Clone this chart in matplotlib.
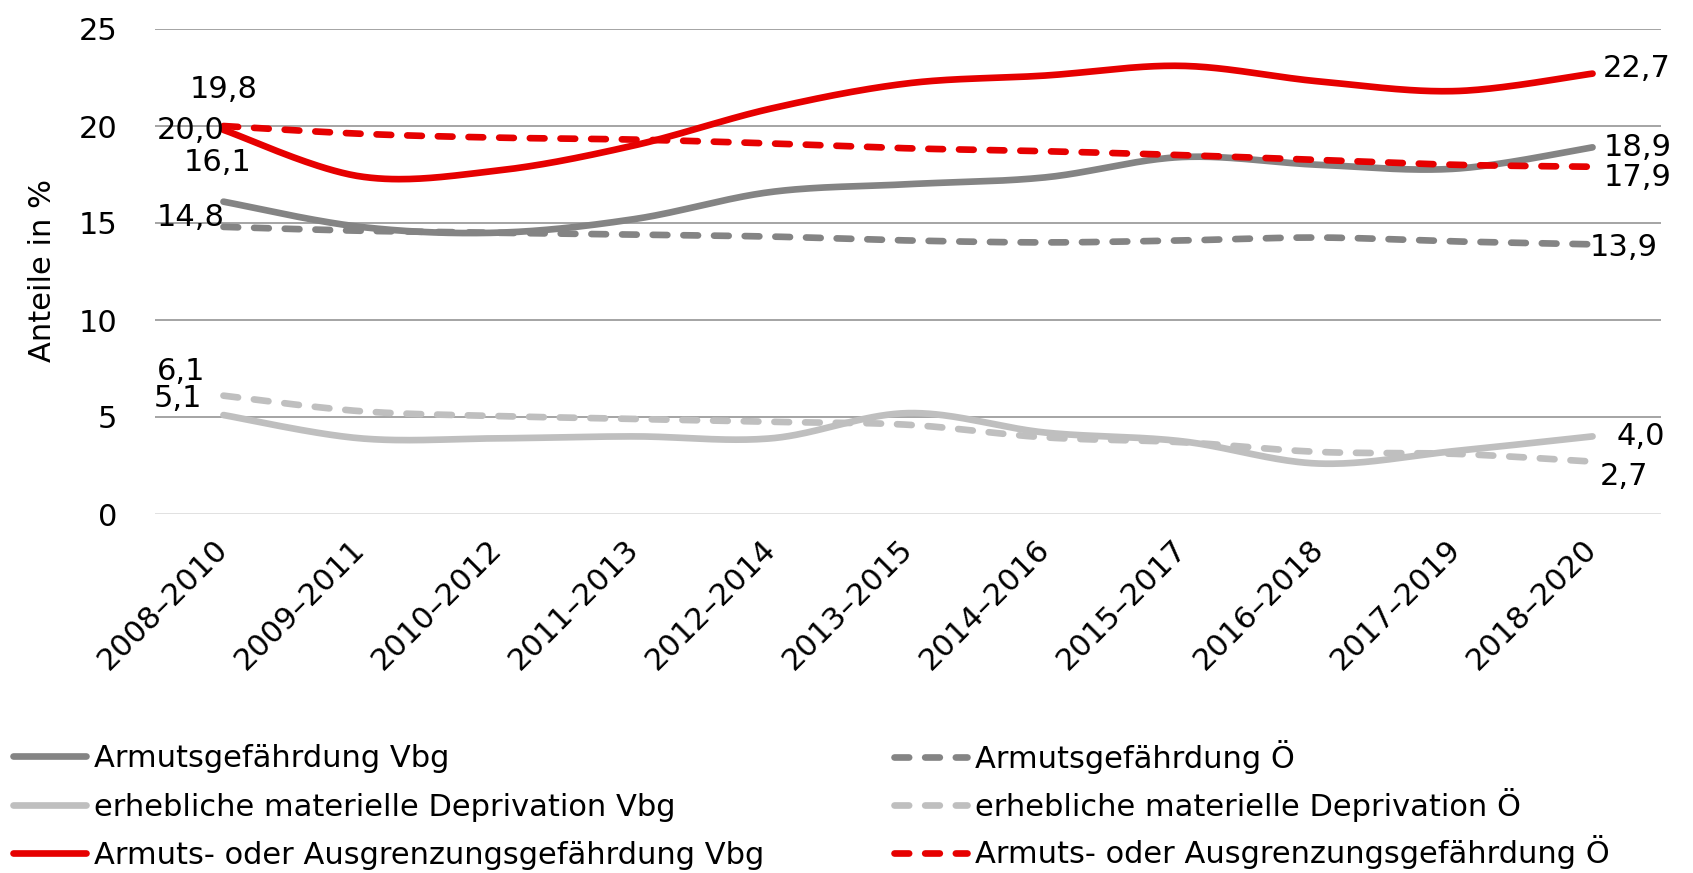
import numpy as np
import matplotlib
matplotlib.use("Agg")
import matplotlib.pyplot as plt

# Drei-Jahres-Durchschnitte, Anteile in %
perioden = ["2008–2010", "2009–2011", "2010–2012", "2011–2013", "2012–2014",
            "2013–2015", "2014–2016", "2015–2017", "2016–2018", "2017–2019",
            "2018–2020"]
armut_vbg = [16.1, 14.8, 14.5, 15.2, 16.6, 17.0, 17.35, 18.4, 18.0, 17.8, 18.9]
armut_oe = [14.8, 14.6, 14.5, 14.4, 14.3, 14.1, 14.0, 14.1, 14.25, 14.05, 13.9]
depr_vbg = [5.1, 3.9, 3.9, 4.0, 3.9, 5.2, 4.2, 3.75, 2.6, 3.25, 4.0]
depr_oe = [6.1, 5.3, 5.05, 4.9, 4.75, 4.6, 3.95, 3.7, 3.2, 3.1, 2.7]
ausgr_vbg = [19.8, 17.4, 17.7, 19.0, 20.9, 22.2, 22.6, 23.1, 22.3, 21.8, 22.7]
ausgr_oe = [20.0, 19.6, 19.4, 19.3, 19.1, 18.85, 18.7, 18.5, 18.25, 18.0, 17.9]
y_ticks = [0, 5, 10, 15, 20, 25]

ROT = "#E60000"
DUNKEL = "#848484"
HELL = "#BFBFBF"

plt.rcParams["font.family"] = ["DejaVu Sans"]
FS = 22


def smooth(y, n=40):
    """Excel-artige Glättung (Bezier mit Catmull-Rom Kontrollpunkten)."""
    pts = np.column_stack([np.arange(len(y)), y]).astype(float)
    out = []
    for i in range(len(pts) - 1):
        p0 = pts[max(i - 1, 0)]
        p1 = pts[i]
        p2 = pts[i + 1]
        p3 = pts[min(i + 2, len(pts) - 1)]
        c1 = p1 + (p2 - p0) / 6
        c2 = p2 - (p3 - p1) / 6
        t = np.linspace(0, 1, n)[:, None]
        seg = (1 - t) ** 3 * p1 + 3 * (1 - t) ** 2 * t * c1 + 3 * (1 - t) * t ** 2 * c2 + t ** 3 * p2
        out.append(seg if i == 0 else seg[1:])
    s = np.vstack(out)
    return s[:, 0], s[:, 1]


def fmt(v):
    return f"{v:.1f}".replace(".", ",")


fig = plt.figure(figsize=(16.93, 8.73), dpi=100)
ax = fig.add_axes([155 / 1693, 1 - 514 / 873, 1506 / 1693, 485 / 873])

LW = 4.8
DASH = (0, (2.2, 2.4))
serien = [
    (armut_vbg, DUNKEL, "-", "Armutsgefährdung Vbg"),
    (armut_oe, DUNKEL, DASH, "Armutsgefährdung Ö"),
    (depr_vbg, HELL, "-", "erhebliche materielle Deprivation Vbg"),
    (depr_oe, HELL, DASH, "erhebliche materielle Deprivation Ö"),
    (ausgr_vbg, ROT, "-", "Armuts- oder Ausgrenzungsgefährdung Vbg"),
    (ausgr_oe, ROT, DASH, "Armuts- oder Ausgrenzungsgefährdung Ö"),
]
handles = {}
for werte, farbe, ls, name in serien:
    xs, ys = smooth(werte)
    ln, = ax.plot(xs, ys, color=farbe, lw=LW, linestyle=ls,
                  solid_capstyle="round", dash_capstyle="round", label=name)
    handles[name] = ln

ax.set_xlim(-0.5, len(perioden) - 0.5)
ax.set_ylim(0, 25)
ax.set_yticks(y_ticks)
ax.set_xticks(range(len(perioden)))
ax.set_xticklabels(perioden, rotation=45, ha="right", va="center",
                   rotation_mode="anchor", fontsize=FS)
ax.tick_params(axis="x", length=0, pad=22)
ax.tick_params(axis="y", length=0, pad=27, labelsize=FS)
for s in ax.spines.values():
    s.set_visible(False)
ax.set_axisbelow(True)
ax.yaxis.grid(True, color="#8C8C8C", lw=1.1)
ax.get_ygridlines()[0].set_color("#D9D9D9")

fig.text(43 / 1693, 1 - 271 / 873, "Anteile in %", rotation=90,
         ha="center", va="center", fontsize=FS)


# Datenbeschriftungen am Anfang und Ende
def lab(x, v, dx, dy, ha):
    ax.annotate(fmt(v), xy=(x, v), xytext=(dx, dy), textcoords="offset points",
                ha=ha, va="center", fontsize=FS, annotation_clip=False)


last = len(perioden) - 1
lab(0, ausgr_vbg[0], 0, 29, "center")
lab(0, ausgr_oe[0], 1, -3, "right")
lab(0, armut_vbg[0], -4, 28, "center")
lab(0, armut_oe[0], 1, 7, "right")
lab(0, depr_oe[0], -13, 17.5, "right")
lab(0, depr_vbg[0], -15, 12, "right")
lab(last, ausgr_vbg[-1], 7, 4, "left")
lab(last, armut_vbg[-1], 8, 0, "left")
lab(last, ausgr_oe[-1], 8, -8, "left")
lab(last, armut_oe[-1], -2, -2, "left")
lab(last, depr_vbg[-1], 17, 0, "left")
lab(last, depr_oe[-1], 5, -11, "left")

links = ["Armutsgefährdung Vbg", "erhebliche materielle Deprivation Vbg",
         "Armuts- oder Ausgrenzungsgefährdung Vbg"]
rechts = ["Armutsgefährdung Ö", "erhebliche materielle Deprivation Ö",
          "Armuts- oder Ausgrenzungsgefährdung Ö"]
for namen, x0, y0, abstand in [(links, 13 / 1693, 744 / 873, 0.64),
                               (rechts, 894 / 1693, 740 / 873, 0.445)]:
    fig.legend([handles[n] for n in namen], namen, loc="upper left",
               bbox_to_anchor=(x0, 1 - y0), frameon=False, fontsize=FS,
               handlelength=2.4, handletextpad=0.25, labelspacing=abstand,
               borderpad=0, borderaxespad=0)

fig.savefig("out.png", dpi=100)
